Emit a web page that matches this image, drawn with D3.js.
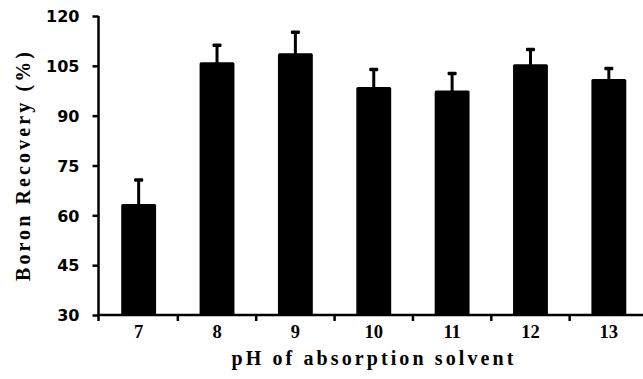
<!DOCTYPE html>
<html>
<head>
<meta charset="utf-8">
<script src="https://cdn.jsdelivr.net/npm/d3@7"></script>
<style>
  body { margin: 0; background: #fff; }
  .ytick text { font-family: "DejaVu Sans", Arial, sans-serif; font-weight: bold; font-size: 16px; }
  .xtick text { font-family: "Liberation Serif", "Times New Roman", serif; font-weight: bold; font-size: 18.5px; }
  .title { font-family: "Liberation Serif", "Times New Roman", serif; font-weight: bold; font-size: 20px; letter-spacing: 3.1px; }
</style>
</head>
<body>
<div id="chart"></div>
<script>
// pH values and recovery readings
var phLabels = ['7', '8', '9', '10', '11', '12', '13'];
var recovery = [63.4, 106.1, 108.8, 98.6, 97.6, 105.5, 101.0];
var errors = [7.3, 5.2, 6.4, 5.4, 5.2, 4.5, 3.3];
var yTicks = [30, 45, 60, 75, 90, 105, 120];

var width = 643, height = 379;
var plotLeft = 98.5, plotRight = 649, plotTop = 16, plotBottom = 315;

var svg = d3.select('#chart')
    .append('svg')
    .attr('width', width)
    .attr('height', height);

var x = d3.scaleBand()
    .domain(phLabels)
    .range([plotLeft, plotRight])
    .paddingInner(0.555)
    .paddingOuter(0.29);

var y = d3.scaleLinear()
    .domain([30, 120])
    .range([plotBottom, plotTop]);

var data = phLabels.map(function(d, i) {
    return { ph: d, value: recovery[i], err: errors[i] };
});

// bars
svg.selectAll('rect.bar')
    .data(data)
    .enter()
    .append('rect')
    .attr('class', 'bar')
    .attr('x', function(d) { return x(d.ph); })
    .attr('y', function(d) { return y(d.value); })
    .attr('width', x.bandwidth())
    .attr('height', function(d) { return y(30) - y(d.value); })
    .attr('rx', 1.5)
    .style('fill', '#000');

// error bars (upper only)
svg.selectAll('line.err')
    .data(data)
    .enter()
    .append('line')
    .attr('class', 'err')
    .attr('x1', function(d) { return x(d.ph) + x.bandwidth() / 2; })
    .attr('x2', function(d) { return x(d.ph) + x.bandwidth() / 2; })
    .attr('y1', function(d) { return y(d.value) + 1; })
    .attr('y2', function(d) { return y(d.value + d.err); })
    .style('stroke', '#000')
    .style('stroke-width', 3);

svg.selectAll('rect.cap')
    .data(data)
    .enter()
    .append('rect')
    .attr('class', 'cap')
    .attr('x', function(d) { return x(d.ph) + x.bandwidth() / 2 - 4.5; })
    .attr('y', function(d) { return y(d.value + d.err) - 1.5; })
    .attr('width', 9)
    .attr('height', 3.5)
    .attr('rx', 1)
    .style('fill', '#000');

// y axis (runs a little below the x axis, like the original)
var yAxis = svg.append('g')
    .attr('class', 'ytick')
    .attr('transform', 'translate(' + plotLeft + ',0)')
    .call(d3.axisLeft(y).tickValues(yTicks).tickSize(6).tickPadding(13));
yAxis.select('.domain').attr('d', 'M0,' + plotTop + 'V' + (plotBottom + 6)).style('stroke-width', 2.5);
yAxis.selectAll('.tick line').style('stroke-width', 2.5);
yAxis.selectAll('.tick text').attr('dy', '0.36em');

// x axis with ticks between categories
var xAxis = svg.append('g')
    .attr('class', 'xtick')
    .attr('transform', 'translate(0,' + plotBottom + ')')
    .call(d3.axisBottom(x).tickSize(0).tickPadding(10));
xAxis.select('.domain').attr('d', 'M' + plotLeft + ',0H' + plotRight).style('stroke-width', 2.5);
xAxis.selectAll('.tick text').attr('dy', '0.71em');

var step = x.step();
svg.selectAll('line.sep')
    .data(phLabels.slice(1))
    .enter()
    .append('line')
    .attr('class', 'sep')
    .attr('x1', function(d) { return x(d) - (step - x.bandwidth()) / 2; })
    .attr('x2', function(d) { return x(d) - (step - x.bandwidth()) / 2; })
    .attr('y1', plotBottom)
    .attr('y2', plotBottom + 6)
    .style('stroke', '#000')
    .style('stroke-width', 2.5);

// axis titles
svg.append('text')
    .attr('class', 'title')
    .attr('x', 374)
    .attr('y', 365)
    .attr('text-anchor', 'middle')
    .text('pH of absorption solvent');

svg.append('text')
    .attr('class', 'title')
    .attr('transform', 'translate(30,165) rotate(-90)')
    .attr('text-anchor', 'middle')
    .text('Boron Recovery (%)');
</script>
</body>
</html>
